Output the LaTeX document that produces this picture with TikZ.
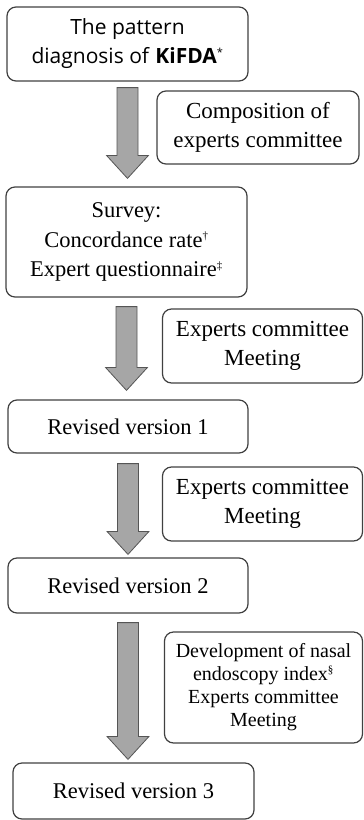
\documentclass[tikz,border=0pt]{standalone}
\usepackage{fontspec}
\setmainfont{Liberation Serif}
\newfontfamily\headfont{Open Sans}
\usetikzlibrary{calc}

\definecolor{boxline}{HTML}{404040}
\definecolor{arrowfill}{HTML}{A6A6A6}
\definecolor{arrowline}{HTML}{555555}

% small footnote marks
\newcommand{\fnmark}[1]{\textsuperscript{\fontsize{11}{11}\selectfont #1}}

\tikzset{
  box/.style={draw=boxline, rounded corners=9pt, line width=1.2pt, align=center,
    inner sep=0pt, font=\fontsize{22.5}{29.5}\selectfont},
  note/.style={box, minimum width=200pt, minimum height=74pt, font=\fontsize{23}{28.5}\selectfont},
  % fat down arrow between two points
  fat arrow/.style={draw=arrowline, fill=arrowfill, line width=0.8pt,
    to path={let \p1=(\tikztostart), \p2=(\tikztotarget) in
      (\x1-10.5pt,\y1) -- (\x1+10.5pt,\y1) -- (\x1+10.5pt,\y2+23pt)
      -- (\x1+21pt,\y2+23pt) -- (\x1,\y2) -- (\x1-21pt,\y2+23pt)
      -- (\x1-10.5pt,\y2+23pt) -- cycle}}
}

\begin{document}
\begin{tikzpicture}[x=1pt,y=-1pt]
  \useasboundingbox (0,0) rectangle (364,820);

  % main steps
  \node[box, minimum width=241pt, minimum height=74pt, font=\headfont\fontsize{21}{29}\selectfont]
    (kifda) at (127.5,44)
    {The pattern\\diagnosis of \textbf{KiFDA}\fnmark{*}};
  \node[box, minimum width=241pt, minimum height=110pt] (survey) at (126.5,242)
    {Survey:\\Concordance rate\fnmark{†}\\Expert questionnaire\fnmark{‡}};
  \node[box, minimum width=240pt, minimum height=53pt] (rev1) at (128,426.5) {Revised version 1};
  \node[box, minimum width=240pt, minimum height=55pt] (rev2) at (128,585.5) {Revised version 2};
  \node[box, minimum width=241pt, minimum height=56pt] (rev3) at (133.5,791) {Revised version 3};

  % side notes
  \node[note, minimum width=202pt, minimum height=73pt] (comp) at (258,127.5)
    {Composition of\\experts committee};
  \node[note] (meet1) at (262.5,346) {Experts committee\\Meeting};
  \node[note] (meet2) at (262.5,504) {Experts committee\\Meeting};
  \node[note, minimum width=198pt, minimum height=111pt, font=\fontsize{20}{23}\selectfont]
    (nasal) at (263.5,687.5)
    {Development of nasal\\endoscopy index\fnmark{§}\\Experts committee\\Meeting};

  % arrows
  \path[fat arrow] ([yshift=-6pt]kifda.south) to ([yshift=8pt]survey.north);
  \path[fat arrow] ([yshift=-9pt]survey.south) to ([yshift=9pt]rev1.north);
  \path[fat arrow] ([yshift=-10pt]rev1.south) to ([yshift=3pt]rev2.north);
  \path[fat arrow] ([yshift=-9pt]rev2.south) to ([yshift=3pt]rev3.north);
\end{tikzpicture}
\end{document}
